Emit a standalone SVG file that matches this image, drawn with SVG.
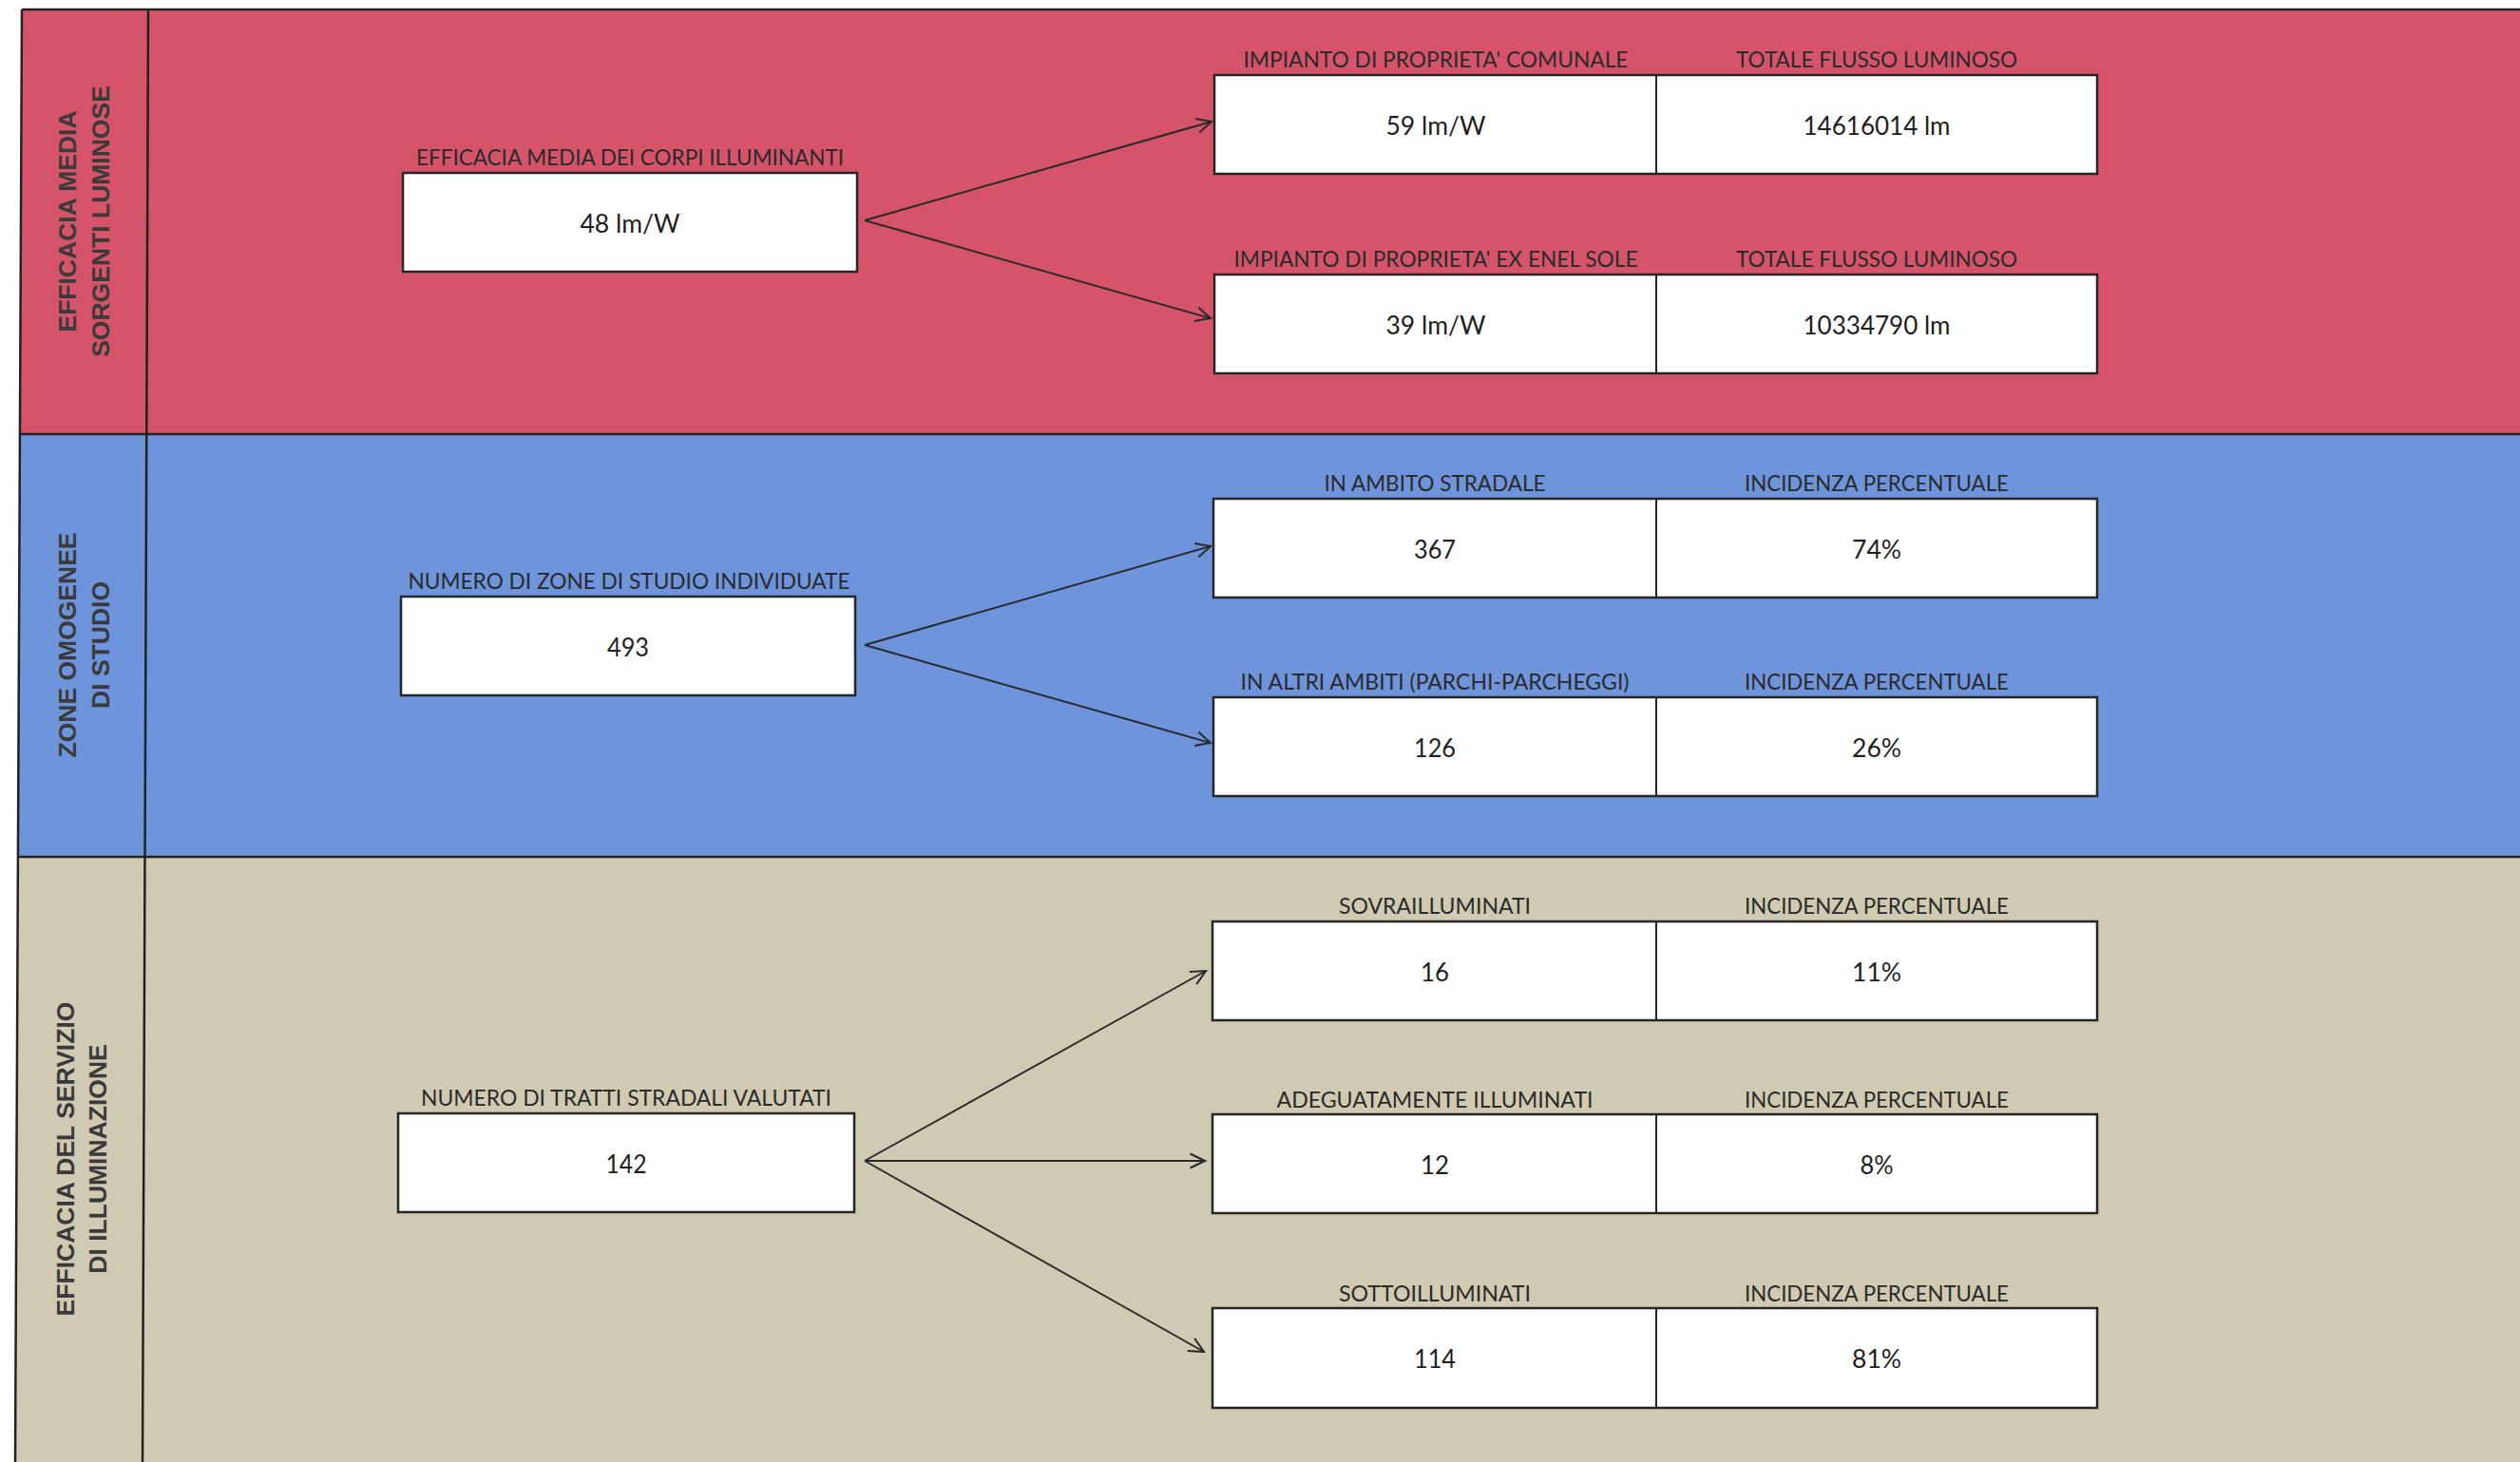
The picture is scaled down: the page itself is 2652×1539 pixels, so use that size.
<svg xmlns="http://www.w3.org/2000/svg" width="2652" height="1539" viewBox="0 0 2652 1539">
<defs>
<style>
.lbl{font-family:Lato,"Open Sans","Liberation Sans",sans-serif;font-size:23px;fill:#2a2a2a;text-anchor:middle}
.val{font-family:Lato,"Open Sans","Liberation Sans",sans-serif;font-size:26px;fill:#1e1e1e;text-anchor:middle}
.side{font-family:"Liberation Sans",Arial,sans-serif;font-weight:bold;font-size:26.5px;fill:#3a3a3a;text-anchor:middle}
.box{fill:#ffffff;stroke:#262626;stroke-width:2.5}
.div{stroke:#262626;stroke-width:2}
.edge{stroke:#2a2a2a;stroke-width:2;fill:none;marker-end:url(#arr)}
.frame{stroke:#222;stroke-width:2.5;fill:none}
</style>
<marker id="arr" markerUnits="userSpaceOnUse" viewBox="-18 -10 20 20" refX="0" refY="0" markerWidth="20" markerHeight="20" orient="auto">
<path d="M-15.5,-7.5 L0,0 L-15.5,7.5" fill="none" stroke="#2a2a2a" stroke-width="2"/>
</marker>
</defs>
<rect x="0" y="0" width="2652" height="1539" fill="#ffffff"/>

<g id="bands">
<polygon points="23,10 2652,10 2652,457 21,457" fill="#d5546a"/>
<polygon points="21,457 2652,457 2652,902 19,902" fill="#6e94dc"/>
<polygon points="19,902 2652,902 2652,1539 16,1539" fill="#cfcab1"/>
<line class="frame" x1="23" y1="10" x2="2652" y2="10"/>
<line class="frame" x1="23" y1="10" x2="16" y2="1539"/>
<line class="frame" x1="156" y1="10" x2="150" y2="1539"/>
<line class="frame" x1="21" y1="457" x2="2652" y2="457"/>
<line class="frame" x1="19" y1="902" x2="2652" y2="902"/>
</g>

<g id="lane-efficacia-media">
<text class="side" transform="translate(80,233) rotate(-90)">EFFICACIA MEDIA</text>
<text class="side" transform="translate(115,233) rotate(-90)">SORGENTI LUMINOSE</text>
</g>
<g id="lane-zone-omogenee">
<text class="side" transform="translate(80,679) rotate(-90)">ZONE OMOGENEE</text>
<text class="side" transform="translate(115,679) rotate(-90)">DI STUDIO</text>
</g>
<g id="lane-efficacia-servizio">
<text class="side" transform="translate(78,1220) rotate(-90)">EFFICACIA DEL SERVIZIO</text>
<text class="side" transform="translate(112,1220) rotate(-90)">DI ILLUMINAZIONE</text>
</g>

<g id="connectors">
<line class="edge" x1="910" y1="232" x2="1275" y2="128"/>
<line class="edge" x1="910" y1="232" x2="1274" y2="335"/>
<line class="edge" x1="910" y1="679" x2="1274" y2="575"/>
<line class="edge" x1="910" y1="679" x2="1274" y2="782"/>
<line class="edge" x1="910" y1="1222" x2="1269" y2="1022"/>
<line class="edge" x1="910" y1="1222" x2="1268" y2="1222"/>
<line class="edge" x1="910" y1="1222" x2="1267" y2="1423"/>
</g>

<g id="node-efficacia-corpi">
<text class="lbl" x="663" y="174" textLength="450" lengthAdjust="spacingAndGlyphs">EFFICACIA MEDIA DEI CORPI ILLUMINANTI</text>
<rect class="box" x="424" y="182" width="478" height="104"/>
<text class="val" x="663" y="245" textLength="105" lengthAdjust="spacingAndGlyphs">48 lm/W</text>
</g>

<g id="node-comunale">
<text class="lbl" x="1511" y="71" textLength="405" lengthAdjust="spacingAndGlyphs">IMPIANTO DI PROPRIETA' COMUNALE</text>
<text class="lbl" x="1975" y="71" textLength="296" lengthAdjust="spacingAndGlyphs">TOTALE FLUSSO LUMINOSO</text>
<rect class="box" x="1278" y="79" width="929" height="104"/>
<line class="div" x1="1743" y1="79" x2="1743" y2="183"/>
<text class="val" x="1511" y="142" textLength="105" lengthAdjust="spacingAndGlyphs">59 lm/W</text>
<text class="val" x="1975" y="142" textLength="155" lengthAdjust="spacingAndGlyphs">14616014 lm</text>
</g>

<g id="node-enel-sole">
<text class="lbl" x="1511" y="281" textLength="425" lengthAdjust="spacingAndGlyphs">IMPIANTO DI PROPRIETA' EX ENEL SOLE</text>
<text class="lbl" x="1975" y="281" textLength="296" lengthAdjust="spacingAndGlyphs">TOTALE FLUSSO LUMINOSO</text>
<rect class="box" x="1278" y="289" width="929" height="104"/>
<line class="div" x1="1743" y1="289" x2="1743" y2="393"/>
<text class="val" x="1511" y="352" textLength="105" lengthAdjust="spacingAndGlyphs">39 lm/W</text>
<text class="val" x="1975" y="352" textLength="155" lengthAdjust="spacingAndGlyphs">10334790 lm</text>
</g>

<g id="node-zone-studio">
<text class="lbl" x="662" y="620" textLength="465" lengthAdjust="spacingAndGlyphs">NUMERO DI ZONE DI STUDIO INDIVIDUATE</text>
<rect class="box" x="422" y="628" width="478" height="104"/>
<text class="val" x="661" y="691" textLength="44" lengthAdjust="spacingAndGlyphs">493</text>
</g>

<g id="node-ambito-stradale">
<text class="lbl" x="1510" y="517" textLength="233" lengthAdjust="spacingAndGlyphs">IN AMBITO STRADALE</text>
<text class="lbl" x="1975" y="517" textLength="278" lengthAdjust="spacingAndGlyphs">INCIDENZA PERCENTUALE</text>
<rect class="box" x="1277" y="525" width="930" height="104"/>
<line class="div" x1="1743" y1="525" x2="1743" y2="629"/>
<text class="val" x="1510" y="588" textLength="44" lengthAdjust="spacingAndGlyphs">367</text>
<text class="val" x="1975" y="588" textLength="52" lengthAdjust="spacingAndGlyphs">74%</text>
</g>

<g id="node-altri-ambiti">
<text class="lbl" x="1510" y="726" textLength="409" lengthAdjust="spacingAndGlyphs">IN ALTRI AMBITI (PARCHI-PARCHEGGI)</text>
<text class="lbl" x="1975" y="726" textLength="278" lengthAdjust="spacingAndGlyphs">INCIDENZA PERCENTUALE</text>
<rect class="box" x="1277" y="734" width="930" height="104"/>
<line class="div" x1="1743" y1="734" x2="1743" y2="838"/>
<text class="val" x="1510" y="797" textLength="44" lengthAdjust="spacingAndGlyphs">126</text>
<text class="val" x="1975" y="797" textLength="52" lengthAdjust="spacingAndGlyphs">26%</text>
</g>

<g id="node-tratti-stradali">
<text class="lbl" x="659" y="1164" textLength="432" lengthAdjust="spacingAndGlyphs">NUMERO DI TRATTI STRADALI VALUTATI</text>
<rect class="box" x="419" y="1172" width="480" height="104"/>
<text class="val" x="659" y="1235" textLength="43" lengthAdjust="spacingAndGlyphs">142</text>
</g>

<g id="node-sovrailluminati">
<text class="lbl" x="1510" y="962" textLength="202" lengthAdjust="spacingAndGlyphs">SOVRAILLUMINATI</text>
<text class="lbl" x="1975" y="962" textLength="278" lengthAdjust="spacingAndGlyphs">INCIDENZA PERCENTUALE</text>
<rect class="box" x="1276" y="970" width="931" height="104"/>
<line class="div" x1="1743" y1="970" x2="1743" y2="1074"/>
<text class="val" x="1510" y="1033" textLength="30" lengthAdjust="spacingAndGlyphs">16</text>
<text class="val" x="1975" y="1033" textLength="52" lengthAdjust="spacingAndGlyphs">11%</text>
</g>

<g id="node-adeguatamente">
<text class="lbl" x="1510" y="1166" textLength="333" lengthAdjust="spacingAndGlyphs">ADEGUATAMENTE ILLUMINATI</text>
<text class="lbl" x="1975" y="1166" textLength="278" lengthAdjust="spacingAndGlyphs">INCIDENZA PERCENTUALE</text>
<rect class="box" x="1276" y="1173" width="931" height="104"/>
<line class="div" x1="1743" y1="1173" x2="1743" y2="1277"/>
<text class="val" x="1510" y="1236" textLength="30" lengthAdjust="spacingAndGlyphs">12</text>
<text class="val" x="1975" y="1236" textLength="35" lengthAdjust="spacingAndGlyphs">8%</text>
</g>

<g id="node-sottoilluminati">
<text class="lbl" x="1510" y="1370" textLength="202" lengthAdjust="spacingAndGlyphs">SOTTOILLUMINATI</text>
<text class="lbl" x="1975" y="1370" textLength="278" lengthAdjust="spacingAndGlyphs">INCIDENZA PERCENTUALE</text>
<rect class="box" x="1276" y="1377" width="931" height="105"/>
<line class="div" x1="1743" y1="1377" x2="1743" y2="1482"/>
<text class="val" x="1510" y="1440" textLength="44" lengthAdjust="spacingAndGlyphs">114</text>
<text class="val" x="1975" y="1440" textLength="52" lengthAdjust="spacingAndGlyphs">81%</text>
</g>
</svg>
